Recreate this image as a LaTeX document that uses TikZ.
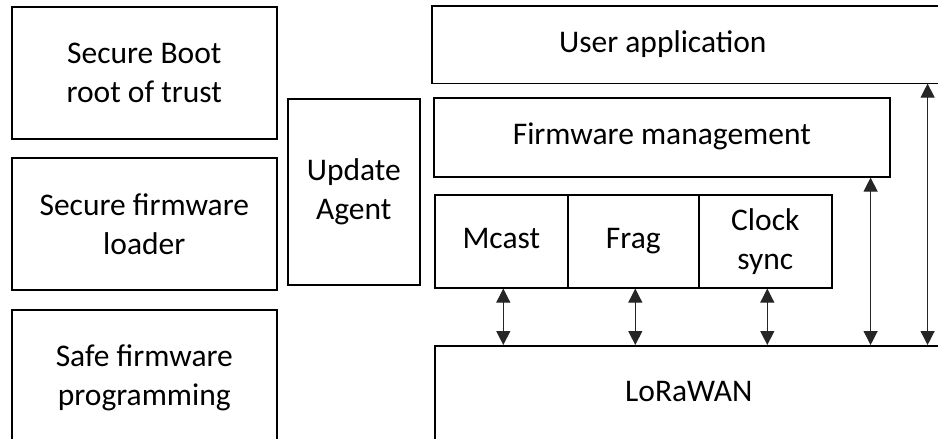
\documentclass[tikz,border=0pt]{standalone}
\usepackage{fontspec}
\setmainfont{Carlito}
\usetikzlibrary{arrows.meta,calc}
\begin{document}
\begin{tikzpicture}[x=1pt,y=-1pt,
  box/.style={draw, line width=1.6pt, inner sep=0pt, align=center,
    font=\fontsize{31.5}{39}\selectfont, anchor=north west},
  oneline/.style={text height=21pt, text depth=6pt},
  link/.style={draw=black!85, line width=1.2pt, {Triangle[width=14pt,length=14pt]}-{Triangle[width=14pt,length=14pt]}}]
\useasboundingbox (0,0) rectangle (938,439);
\clip (0,0) rectangle (938,439);

% left column: boot chain
\node[box, minimum width=265pt, minimum height=132pt] (boot)   at (11,6)   {Secure Boot\\root of trust};
\node[box, minimum width=265pt, minimum height=132pt] (loader) at (11,157) {Secure firmware\\loader};
\node[box, minimum width=265pt, minimum height=136pt] (safe)   at (11,309) {Safe firmware\\programming};

% update agent
\node[box, minimum width=132pt, minimum height=186pt] (agent) at (287,98) {Update\\Agent};

% application stack
\node[box, oneline, draw=none, minimum width=460pt, minimum height=76pt] (user) at (432,6) {User application};
\draw[line width=1.6pt] ([xshift=60pt]user.north east) -- (user.north west) -- (user.south west) -- ([xshift=60pt]user.south east);
\node[box, oneline, minimum width=456pt, minimum height=79pt] (fw) at (433,97) {Firmware management};
\node[box, oneline, minimum width=133pt, minimum height=93pt] (mcast) at (434,194) {Mcast};
\node[box, oneline, minimum width=131pt, minimum height=93pt] (frag)  at (567,194) {Frag};
\node[box, minimum width=133pt, minimum height=93pt] (clock) at (698,194) {Clock\\sync};
\node[box, oneline, minimum width=508pt, minimum height=96pt] (lora)  at (434,345) {LoRaWAN};

% connections to the LoRaWAN layer
\draw[link] ([xshift=2pt]mcast.south) -- ([xshift=2pt]mcast.south |- lora.north);
\draw[link] ([xshift=2pt]frag.south)  -- ([xshift=2pt]frag.south |- lora.north);
\draw[link] ([xshift=2pt]clock.south) -- ([xshift=2pt]clock.south |- lora.north);
\draw[link] ([xshift=-20pt]fw.south east) -- ([xshift=-20pt]fw.south east |- lora.north);
\draw[link] ([xshift=34pt]user.south east) -- ([xshift=34pt]user.south east |- lora.north);
\end{tikzpicture}
\end{document}
